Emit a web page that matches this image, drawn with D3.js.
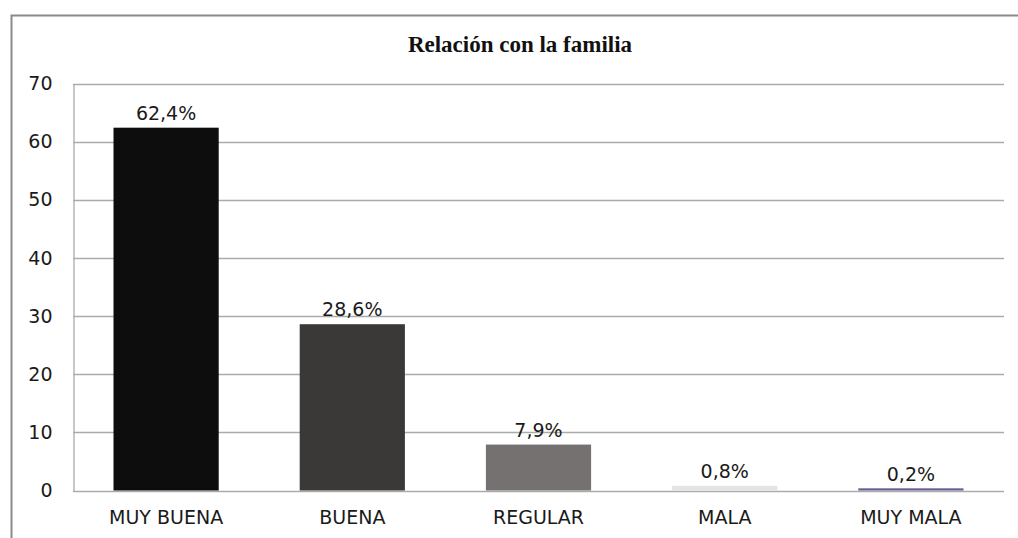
<!DOCTYPE html>
<html>
<head>
<meta charset="UTF-8">
<script src="https://d3js.org/d3.v7.min.js"></script>
<style>
    body { margin: 0; background: #fff; }
    .axis-y text, .axis-x text, .val { font-family: "DejaVu Sans", sans-serif; font-size: 19px; fill: #1a1a1a; }
    .title { font-family: "Liberation Serif", serif; font-weight: bold; font-size: 23px; fill: #111; }
</style>
</head>
<body>
<svg id="chart" width="1018" height="538"></svg>
<script>
    // data
    const categories = ["MUY BUENA", "BUENA", "REGULAR", "MALA", "MUY MALA"];
    const values = [62.4, 28.6, 7.9, 0.8, 0.2];
    const valueLabels = ["62,4%", "28,6%", "7,9%", "0,8%", "0,2%"];
    const barColors = ["#0d0d0d", "#3b3838", "#767171", "#e3e3e3", "#6a5a94"];
    const yTicks = [0, 10, 20, 30, 40, 50, 60, 70];

    const svg = d3.select("#chart");

    // outer chart frame (only top and left edges are visible)
    svg.append("rect")
        .attr("x", 11.5).attr("y", 15.5)
        .attr("width", 1030).attr("height", 540)
        .attr("fill", "none").attr("stroke", "#8a8a8a").attr("stroke-width", 2);

    svg.append("text")
        .attr("class", "title")
        .attr("x", 520).attr("y", 52)
        .attr("text-anchor", "middle")
        .text("Relación con la familia");

    const margin = {left: 73, right: 1004, top: 83.5, bottom: 490.5};

    const x = d3.scaleBand()
        .domain(categories)
        .range([margin.left, margin.right])
        .paddingInner(0.435)
        .paddingOuter(0.2175);

    const y = d3.scaleLinear()
        .domain([0, 70])
        .range([margin.bottom, margin.top]);

    // gridlines
    svg.append("g")
        .selectAll("line")
        .data(yTicks)
        .join("line")
        .attr("x1", margin.left).attr("x2", margin.right)
        .attr("y1", d => Math.round(y(d)) + 0.5).attr("y2", d => Math.round(y(d)) + 0.5)
        .attr("stroke", "#ababab").attr("stroke-width", 1.3);

    // y axis
    const yAxis = svg.append("g")
        .attr("class", "axis-y")
        .attr("transform", "translate(" + (margin.left + 0.5) + ",0)")
        .call(d3.axisLeft(y).tickValues(yTicks).tickSize(0).tickPadding(21));
    yAxis.select(".domain").attr("stroke", "#ababab").attr("stroke-width", 1.3);

    // x axis
    const xAxis = svg.append("g")
        .attr("class", "axis-x")
        .attr("transform", "translate(0," + margin.bottom + ")")
        .call(d3.axisBottom(x).tickSize(0).tickPadding(20));
    xAxis.select(".domain").remove();

    // bars
    svg.append("g")
        .selectAll("rect")
        .data(values)
        .join("rect")
        .attr("x", (d, i) => x(categories[i]))
        .attr("width", x.bandwidth())
        .attr("y", d => y(d) - (d < 0.5 ? 1 : 0))
        .attr("height", d => y(0) - y(d) + (d < 0.5 ? 1 : 0))
        .attr("fill", (d, i) => barColors[i]);

    // value labels
    svg.append("g")
        .selectAll("text")
        .data(values)
        .join("text")
        .attr("class", "val")
        .attr("x", (d, i) => x(categories[i]) + x.bandwidth() / 2)
        .attr("y", d => y(d) - 8)
        .attr("text-anchor", "middle")
        .text((d, i) => valueLabels[i]);
</script>
</body>
</html>
